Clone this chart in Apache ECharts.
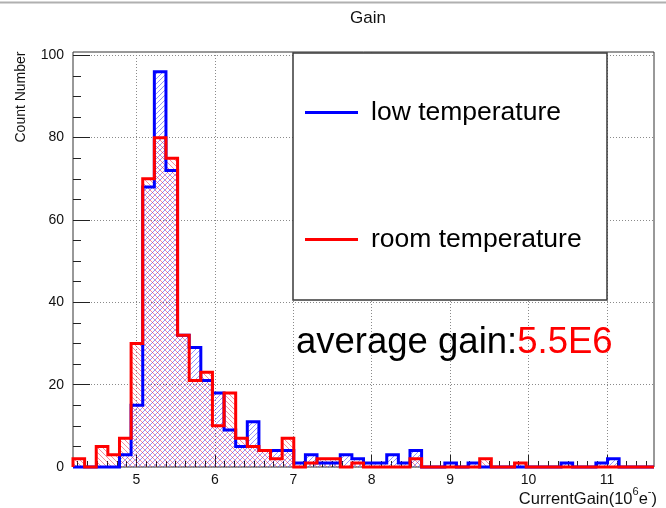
<!DOCTYPE html>
<html>
<head>
<meta charset="utf-8">
<title>Gain</title>
<script src="https://cdn.jsdelivr.net/npm/echarts@6/dist/echarts.min.js"></script>
<style>
  html, body { margin: 0; padding: 0; background: #ffffff; }
  #chart { width: 666px; height: 508px; }
</style>
</head>
<body>
<div id="chart"></div>
<script>
// Histogram binning of the gain axis (units of 10^6 e-)
const binLow = 4.19;
const binHigh = 11.6;
const binCount = 50;

// Entries per bin
const lowTemperature = [
  0, 0, 0, 0, 3, 15, 68, 96, 72, 32,
  29, 21, 18, 9, 5, 11, 4, 4, 4, 1,
  3, 1, 1, 3, 2, 1, 1, 3, 1, 4,
  0, 0, 1, 0, 1, 0, 0, 0, 0, 0,
  0, 0, 1, 0, 0, 1, 2, 0, 0, 0
];
const roomTemperature = [
  2, 0, 5, 3, 7, 30, 70, 80, 75, 32,
  21, 23, 10, 18, 7, 5, 4, 2, 7, 0,
  1, 2, 2, 0, 1, 0, 0, 0, 0, 2,
  0, 0, 0, 0, 0, 2, 0, 0, 1, 0,
  0, 0, 0, 0, 0, 0, 0, 0, 0, 0
];

// Axis ticks
const xTickValues = [5, 6, 7, 8, 9, 10, 11];
const yTickValues = [0, 20, 40, 60, 80, 100];
const yMax = 100.8;
const xMinorStep = 0.125;
const yMinorStep = 5;

const FONT = 'Liberation Sans, Arial, Helvetica, sans-serif';
const BLUE = '#0000ff';
const RED = '#ff0000';

const binWidth = (binHigh - binLow) / binCount;

const xMinorTicks = [];
for (let k = Math.ceil(binLow / xMinorStep); k * xMinorStep <= binHigh; k++) {
  const v = k * xMinorStep;
  if (Math.abs(v - Math.round(v)) > 1e-9) xMinorTicks.push(v);
}
const yMinorTicks = [];
for (let v = yMinorStep; v <= 100; v += yMinorStep) {
  if (v % 20 !== 0) yMinorTicks.push(v);
}

// Step outline through the bin edges, closed down to zero at both ends
function stepPoints(counts) {
  const pts = [[binLow, 0]];
  counts.forEach((c, i) => pts.push([binLow + i * binWidth, c]));
  pts.push([binHigh, counts[counts.length - 1]]);
  pts.push([binHigh, 0]);
  return pts;
}

// Diagonal hatch tile: dir > 0 draws '/', dir < 0 draws '\'
function hatch(color, dir) {
  const s = 5;
  const c = document.createElement('canvas');
  c.width = s; c.height = s;
  const g = c.getContext('2d');
  g.strokeStyle = color;
  g.lineWidth = 1;
  g.beginPath();
  if (dir > 0) {
    g.moveTo(0, s); g.lineTo(s, 0);
    g.moveTo(-1, 1); g.lineTo(1, -1);
    g.moveTo(s - 1, s + 1); g.lineTo(s + 1, s - 1);
  } else {
    g.moveTo(0, 0); g.lineTo(s, s);
    g.moveTo(s - 1, -1); g.lineTo(s + 1, 1);
    g.moveTo(-1, s - 1); g.lineTo(1, s + 1);
  }
  g.stroke();
  return c;
}

function histSeries(name, counts, color, hatchColor, dir) {
  return {
    type: 'line',
    name: name,
    data: stepPoints(counts),
    step: 'end',
    symbol: 'none',
    clip: false,
    silent: true,
    color: color,
    itemStyle: { color: color },
    lineStyle: { color: color, width: 3, join: 'miter', cap: 'butt' },
    areaStyle: { color: { image: hatch(hatchColor, dir), repeat: 'repeat' }, opacity: 1 },
    emphasis: { disabled: true },
    z: 2
  };
}

const gridLine = { show: true, lineStyle: { color: '#8a8a8a', width: 1, type: [1, 2] } };
const tickColor = '#222';

const chart = echarts.init(document.getElementById('chart'), null, { renderer: 'canvas' });

chart.setOption({
  animation: false,
  backgroundColor: '#ffffff',
  grid: {
    left: 73, right: 12, top: 52, height: 415,
    show: true, borderColor: '#333', borderWidth: 1, backgroundColor: 'transparent'
  },
  xAxis: [
    {
      type: 'value', min: binLow, max: binHigh, splitNumber: 7,
      axisLine: { show: false },
      axisTick: { show: true, inside: true, length: 12, customValues: xTickValues, lineStyle: { color: tickColor } },
      axisLabel: { customValues: xTickValues, margin: 6, fontSize: 14, color: '#111', fontFamily: FONT },
      splitLine: gridLine
    },
    {
      type: 'value', min: binLow, max: binHigh, position: 'bottom',
      axisLine: { show: false },
      axisTick: { show: true, inside: true, length: 6, customValues: xMinorTicks, lineStyle: { color: tickColor } },
      axisLabel: { show: false },
      splitLine: { show: false }
    }
  ],
  yAxis: [
    {
      type: 'value', min: 0, max: yMax, interval: 20,
      axisLine: { show: false },
      axisTick: { show: true, inside: true, length: 17, customValues: yTickValues, lineStyle: { color: tickColor } },
      axisLabel: { customValues: yTickValues, margin: 9, fontSize: 14, color: '#111', fontFamily: FONT },
      splitLine: gridLine
    },
    {
      type: 'value', min: 0, max: yMax, position: 'left',
      axisLine: { show: false },
      axisTick: { show: true, inside: true, length: 8, customValues: yMinorTicks, lineStyle: { color: tickColor } },
      axisLabel: { show: false },
      splitLine: { show: false }
    }
  ],
  legend: {
    orient: 'vertical',
    left: 305, top: 99,
    padding: 0,
    itemWidth: 53, itemHeight: 3, itemGap: 100,
    selectedMode: false,
    z: 10,
    textStyle: { fontSize: 26.5, lineHeight: 27, color: '#000', fontFamily: FONT, padding: [0, 0, 0, 8] },
    data: [
      { name: 'low temperature', icon: 'rect', itemStyle: { color: BLUE, borderWidth: 0 } },
      { name: 'room temperature', icon: 'rect', itemStyle: { color: RED, borderWidth: 0 } }
    ]
  },
  graphic: [
    { type: 'line', z: 1, silent: true,
      shape: { x1: 0, y1: 2.5, x2: 666, y2: 2.5 },
      style: { stroke: '#b0b0b0', lineWidth: 2 } },
    { type: 'text', x: 368, y: 18, silent: true,
      style: { text: 'Gain', fontSize: 17, fontFamily: FONT, fill: '#111', align: 'center', verticalAlign: 'middle' } },
    { type: 'text', x: 21, y: 97, rotation: Math.PI / 2, silent: true,
      style: { text: 'Count Number', fontSize: 14, fontFamily: FONT, fill: '#111', align: 'center', verticalAlign: 'middle' } },
    { type: 'text', x: 657, y: 497, silent: true,
      style: {
        text: '{a|CurrentGain(10}{s|6}{a|e}{s|-}{a|)}',
        align: 'right', verticalAlign: 'middle',
        rich: {
          a: { fontSize: 16.5, fontFamily: FONT, fill: '#111', lineHeight: 21, verticalAlign: 'bottom' },
          s: { fontSize: 11, fontFamily: FONT, fill: '#111', lineHeight: 21, verticalAlign: 'top' }
        }
      } },
    { type: 'rect', z: 3, silent: true,
      shape: { x: 293, y: 53, width: 314, height: 247 },
      style: { fill: '#ffffff', stroke: '#3a3a3a', lineWidth: 1.5 } },
    { type: 'text', x: 296, y: 343, z: 4, silent: true,
      style: {
        text: '{k|average gain:}{v|5.5E6}',
        align: 'left', verticalAlign: 'middle',
        rich: {
          k: { fontSize: 36.5, fontFamily: FONT, fill: '#000' },
          v: { fontSize: 36.5, fontFamily: FONT, fill: RED }
        }
      } }
  ],
  series: [
    histSeries('low temperature', lowTemperature, BLUE, 'rgba(40,40,255,0.5)', 1),
    histSeries('room temperature', roomTemperature, RED, 'rgba(235,0,40,0.45)', -1)
  ]
});
</script>
</body>
</html>
